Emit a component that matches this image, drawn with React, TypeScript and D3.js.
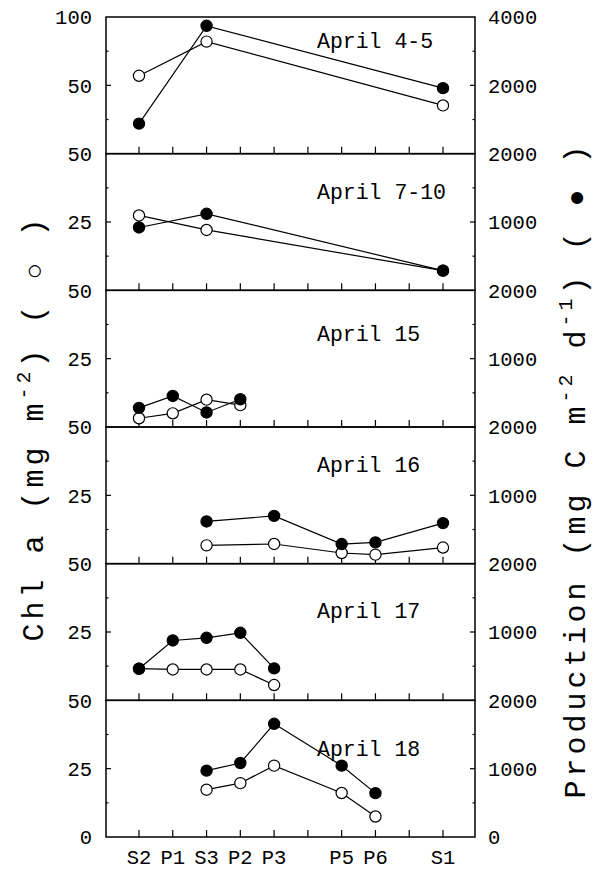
import React from "react";
import * as d3 from "d3";

// Station positions along the transect (index on the x axis)
const stationNames = ["S2", "P1", "S3", "P2", "P3", "P5", "P6", "S1"];
const stationPos = [0, 1, 2, 3, 4, 6, 7, 9];
const xTickPositions = [0, 1, 2, 3, 4, 5, 6, 7, 8, 9];

const panelLabels = ["April 4-5", "April 7-10", "April 15", "April 16", "April 17", "April 18"];

// Stations sampled in each panel
const panelStations = [
  ["S2", "S3", "S1"],
  ["S2", "S3", "S1"],
  ["S2", "P1", "S3", "P2"],
  ["S3", "P3", "P5", "P6", "S1"],
  ["S2", "P1", "S3", "P2", "P3"],
  ["S3", "P2", "P3", "P5", "P6"],
];

// Chl a (mg m-2), open circles, left axis
const chlApr4_5 = [57, 82, 35.3];
const chlApr7_10 = [27.4, 22.1, 7.2];
const chlApr15 = [3.2, 5.0, 10.0, 8.0];
const chlApr16 = [6.7, 7.2, 3.9, 3.3, 5.9];
const chlApr17 = [11.6, 11.3, 11.3, 11.3, 5.6];
const chlApr18 = [17.3, 19.7, 26.1, 16.1, 7.5];

// Production (mg C m-2 d-1), filled circles, right axis
const prodApr4_5 = [880, 3742, 1917];
const prodApr7_10 = [920, 1120, 288];
const prodApr15 = [280, 454, 213, 406];
const prodApr16 = [618, 700, 287, 311, 594];
const prodApr17 = [462, 876, 915, 988, 467];
const prodApr18 = [971, 1083, 1657, 1044, 642];

const chlSeries = [chlApr4_5, chlApr7_10, chlApr15, chlApr16, chlApr17, chlApr18];
const prodSeries = [prodApr4_5, prodApr7_10, prodApr15, prodApr16, prodApr17, prodApr18];

const chlMax = [100, 50, 50, 50, 50, 50];
const prodMax = [4000, 2000, 2000, 2000, 2000, 2000];

// layout
const W = 596;
const H = 869;
const frameLeft = 106;
const frameRight = 475;
const plotTop = 17;
const plotBottom = 837;
const nPanels = 6;
const panelH = (plotBottom - plotTop) / nPanels;
const labelDy = [31, 45, 51, 45, 54, 56];
const FONT = "'Liberation Mono', 'DejaVu Sans Mono', monospace";

export default function App() {
  const x = d3.scaleLinear().domain([0, 9]).range([139, 443]);
  const posOf = (s: string) => stationPos[stationNames.indexOf(s)];

  const panels = d3.range(nPanels).map((i) => {
    const top = plotTop + i * panelH;
    const bottom = top + panelH;
    const yL = d3.scaleLinear().domain([0, chlMax[i]]).range([bottom, top]);
    const yR = d3.scaleLinear().domain([0, prodMax[i]]).range([bottom, top]);
    const chlPts = panelStations[i].map((s, k) => [x(posOf(s)), yL(chlSeries[i][k])] as [number, number]);
    const prodPts = panelStations[i].map((s, k) => [x(posOf(s)), yR(prodSeries[i][k])] as [number, number]);
    const line = d3.line();
    const lm = chlMax[i];
    const rm = prodMax[i];
    const leftMajor = [lm / 2];
    const leftMinor = [lm / 4, (3 * lm) / 4];
    const rightMajor = [rm / 2];
    const rightMinor = [rm / 4, (3 * rm) / 4];
    const leftLabels = i === nPanels - 1 ? [lm, lm / 2, 0] : [lm, lm / 2];
    const rightLabels = i === nPanels - 1 ? [rm, rm / 2, 0] : [rm, rm / 2];
    return (
      <g key={i}>
        <rect x={frameLeft} y={top} width={frameRight - frameLeft} height={panelH} fill="none" stroke="#000" strokeWidth={1.5} />
        {xTickPositions.map((p) => (
          <line key={"xt" + p} x1={x(p)} x2={x(p)} y1={bottom} y2={bottom - 7} stroke="#000" strokeWidth={1.2} />
        ))}
        {leftMajor.map((v) => (
          <line key={"lM" + v} x1={frameLeft} x2={frameLeft + 5} y1={yL(v)} y2={yL(v)} stroke="#000" strokeWidth={1.2} />
        ))}
        {leftMinor.map((v) => (
          <line key={"lm" + v} x1={frameLeft} x2={frameLeft + 2.5} y1={yL(v)} y2={yL(v)} stroke="#000" strokeWidth={1.2} />
        ))}
        {rightMajor.map((v) => (
          <line key={"rM" + v} x1={frameRight} x2={frameRight - 5} y1={yR(v)} y2={yR(v)} stroke="#000" strokeWidth={1.2} />
        ))}
        {rightMinor.map((v) => (
          <line key={"rm" + v} x1={frameRight} x2={frameRight - 2.5} y1={yR(v)} y2={yR(v)} stroke="#000" strokeWidth={1.2} />
        ))}
        {leftLabels.map((v) => (
          <text key={"ll" + v} x={92} y={yL(v)} dy="0.35em" textAnchor="end" fontFamily={FONT} fontSize={20.5} fill="#000">
            {v}
          </text>
        ))}
        {rightLabels.map((v) => (
          <text key={"rl" + v} x={488} y={yR(v)} dy="0.35em" textAnchor="start" fontFamily={FONT} fontSize={20.5} fill="#000">
            {v}
          </text>
        ))}
        <text x={317} y={top + labelDy[i]} fontFamily={FONT} fontSize={21.5} fill="#000">
          {panelLabels[i]}
        </text>
        <path d={line(chlPts) || ""} fill="none" stroke="#000" strokeWidth={1.2} />
        <path d={line(prodPts) || ""} fill="none" stroke="#000" strokeWidth={1.2} />
        {chlPts.map((p, k) => (
          <circle key={"c" + k} cx={p[0]} cy={p[1]} r={5.6} fill="#fff" stroke="#000" strokeWidth={1.2} />
        ))}
        {prodPts.map((p, k) => (
          <circle key={"p" + k} cx={p[0]} cy={p[1]} r={5.6} fill="#000" stroke="#000" strokeWidth={1.2} />
        ))}
      </g>
    );
  });

  const leftCy = 428;
  const rightCy = 470;

  return (
    <svg width={W} height={H} style={{ position: "absolute", left: 0, top: 0, background: "#fff" }}>
      <rect x={0} y={0} width={W} height={H} fill="#fff" />
      {panels}
      {stationNames.map((s, k) => (
        <text key={s} x={x(stationPos[k])} y={864} textAnchor="middle" fontFamily={FONT} fontSize={20.5} fill="#000">
          {s}
        </text>
      ))}
      <text
        transform={`translate(43,${leftCy}) rotate(-90)`}
        textAnchor="middle"
        fontFamily={FONT}
        fontSize={30}
        letterSpacing={4}
        fill="#000"
      >
        Chl a (mg m<tspan fontSize={20} dy={-13}>-2</tspan><tspan dy={13}>) ( </tspan>
        <tspan fontSize={28}>○</tspan> )
      </text>
      <text
        transform={`translate(585,${rightCy}) rotate(-90)`}
        textAnchor="middle"
        fontFamily={FONT}
        fontSize={30}
        letterSpacing={4}
        fill="#000"
      >
        Production (mg C m<tspan fontSize={20} dy={-13}>-2</tspan><tspan dy={13}> d</tspan>
        <tspan fontSize={20} dy={-13}>-1</tspan><tspan dy={13}>) ( </tspan>
        <tspan fontSize={28}>●</tspan> )
      </text>
    </svg>
  );
}
